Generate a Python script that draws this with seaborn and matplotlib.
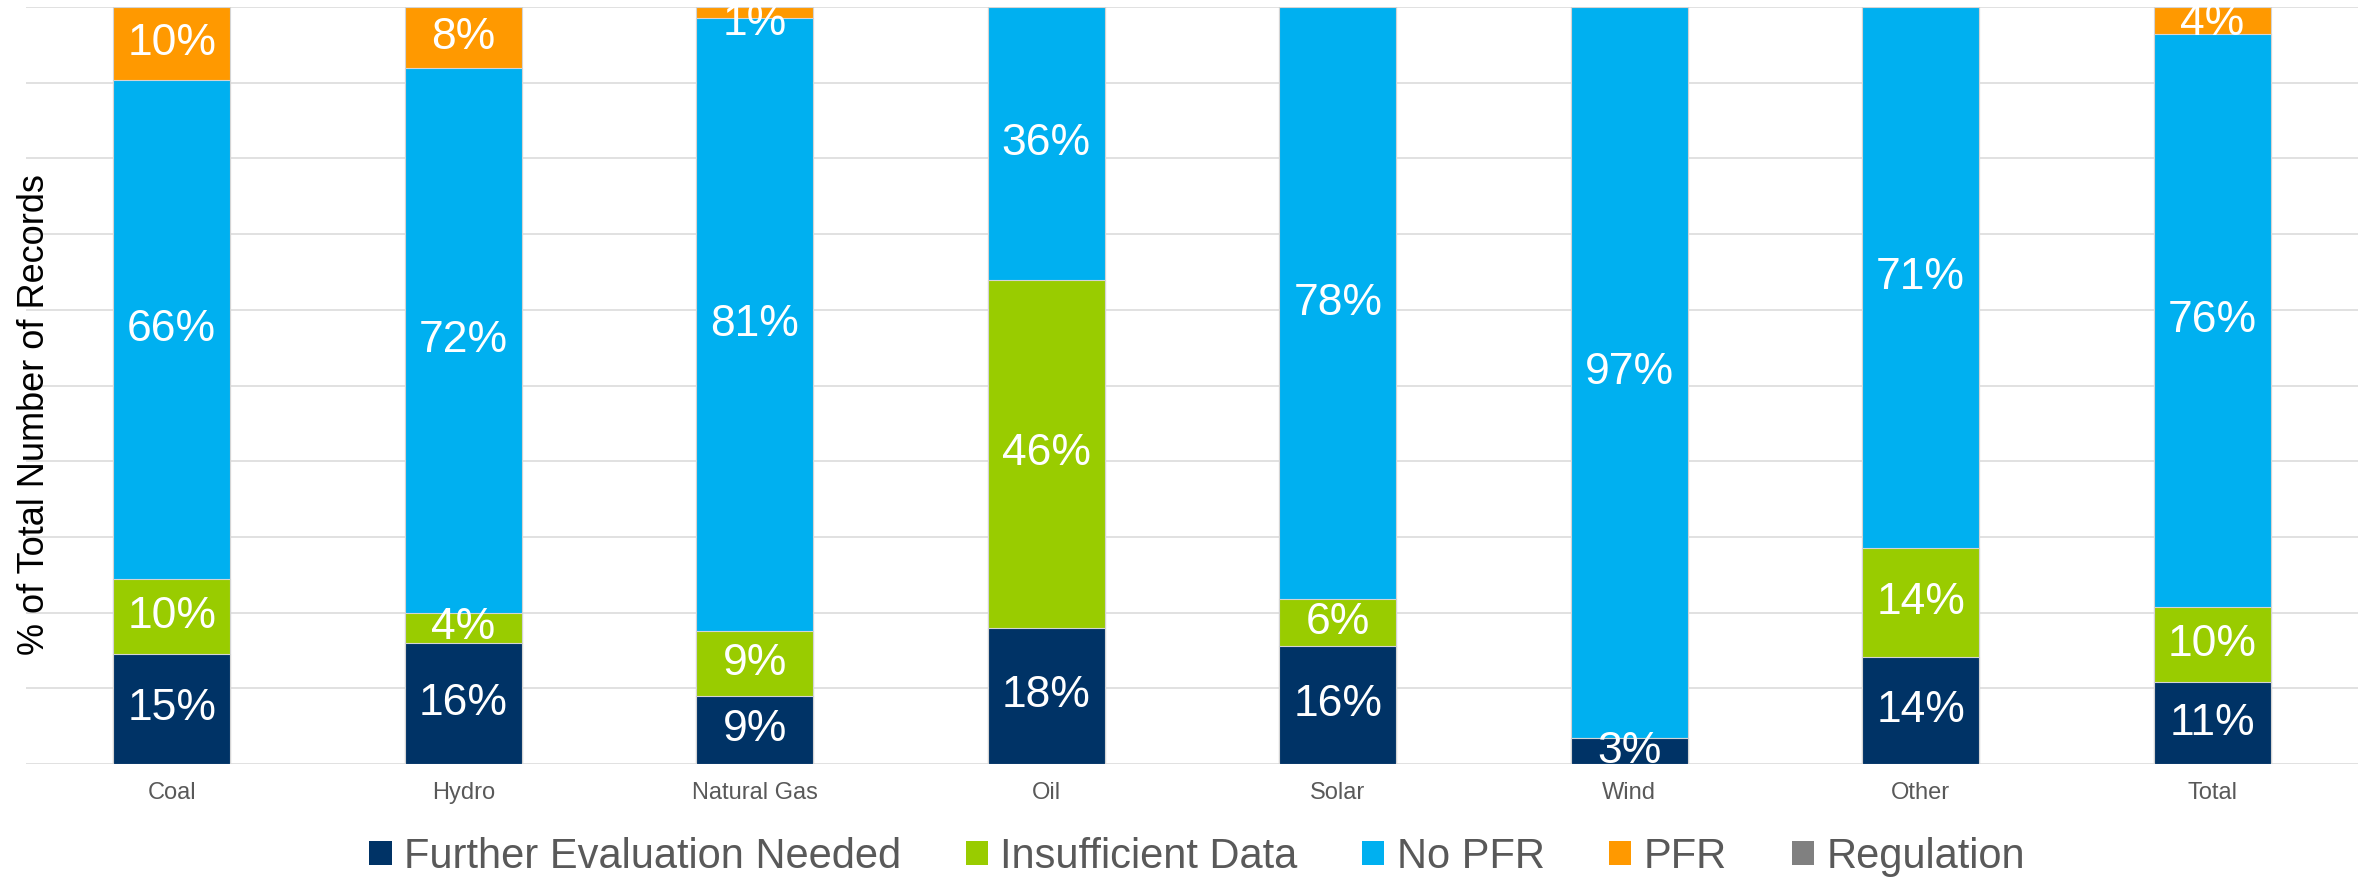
import numpy as np
import pandas as pd
import seaborn as sns
import matplotlib.pyplot as plt
from matplotlib.patches import Patch

# Resource types and the share of records in each status (%)
categories = ['Coal', 'Hydro', 'Natural Gas', 'Oil', 'Solar', 'Wind', 'Other', 'Total']
further_eval = [14.6, 16.0, 9.0, 18.0, 15.6, 3.4, 14.2, 10.8]
insufficient = [9.8, 4.0, 8.6, 46.0, 6.2, 0.0, 14.4, 10.0]
no_pfr = [66.0, 72.0, 81.0, 36.0, 78.2, 96.6, 71.4, 75.6]
pfr = [9.6, 8.0, 1.4, 0.0, 0.0, 0.0, 0.0, 3.6]
regulation = [0.0, 0.0, 0.0, 0.0, 0.0, 0.0, 0.0, 0.0]

series_names = ['Further Evaluation Needed', 'Insufficient Data', 'No PFR', 'PFR', 'Regulation']
series_colors = ['#003366', '#99CC00', '#00B0F0', '#FF9900', '#808080']

sns.set_style('white')
plt.rcParams['font.family'] = ['Liberation Sans', 'DejaVu Sans']

df = pd.DataFrame({'category': categories,
                   series_names[0]: further_eval,
                   series_names[1]: insufficient,
                   series_names[2]: no_pfr,
                   series_names[3]: pfr,
                   series_names[4]: regulation})

values = df[series_names].to_numpy()
tops = np.cumsum(values, axis=1)
bottoms = tops - values

fig = plt.figure(figsize=(23.66, 8.77), dpi=100)
ax = fig.add_axes([26 / 2366, 0.1288, 2332 / 2366, 0.8632])

# stacked bars: draw cumulative totals from the top layer down
for i in range(len(series_names) - 1, -1, -1):
    if values[:, i].sum() == 0:
        continue
    layer = pd.DataFrame({'category': categories, 'top': tops[:, i]})
    sns.barplot(data=layer, x='category', y='top', color=series_colors[i],
                width=0.4, saturation=1, edgecolor='#d4d4d4', linewidth=0.8,
                ax=ax, zorder=2)

# percentage labels in each segment
for j in range(len(categories)):
    for i in range(len(series_names)):
        v = values[j, i]
        if v <= 0:
            continue
        yc = min((bottoms[j, i] + tops[j, i]) / 2, 97.8)
        ax.text(j, yc, f'{v:.0f}%', ha='center', va='center', color='white',
                fontsize=32, zorder=3, clip_on=True)

ax.set_ylim(0, 100)
ax.set_xlim(-0.5, len(categories) - 0.5)
ax.set_yticks(np.arange(0, 101, 10))
ax.set_yticklabels([])
ax.yaxis.grid(True, color='#d9d9d9', linewidth=1.1)
ax.set_axisbelow(True)
for s in ax.spines.values():
    s.set_visible(False)
ax.tick_params(axis='x', length=0, pad=13, labelsize=17, labelcolor='#595959')
ax.tick_params(axis='y', length=0)
ax.set_xlabel('')
ax.set_ylabel('')

fig.text(35 / 2366, 0.527, '% of Total Number of Records', rotation=90,
         ha='center', va='center', fontsize=26, color='black')

handles = [Patch(facecolor=c, edgecolor='none') for c in series_colors]
fig.legend(handles, series_names, loc='center', bbox_to_anchor=(0.506, 0.023),
           ncol=5, frameon=False, fontsize=30, labelcolor='#595959',
           handlelength=0.53, handleheight=0.53, handletextpad=0.3,
           columnspacing=1.55)

fig.savefig('out.png', dpi=100)
